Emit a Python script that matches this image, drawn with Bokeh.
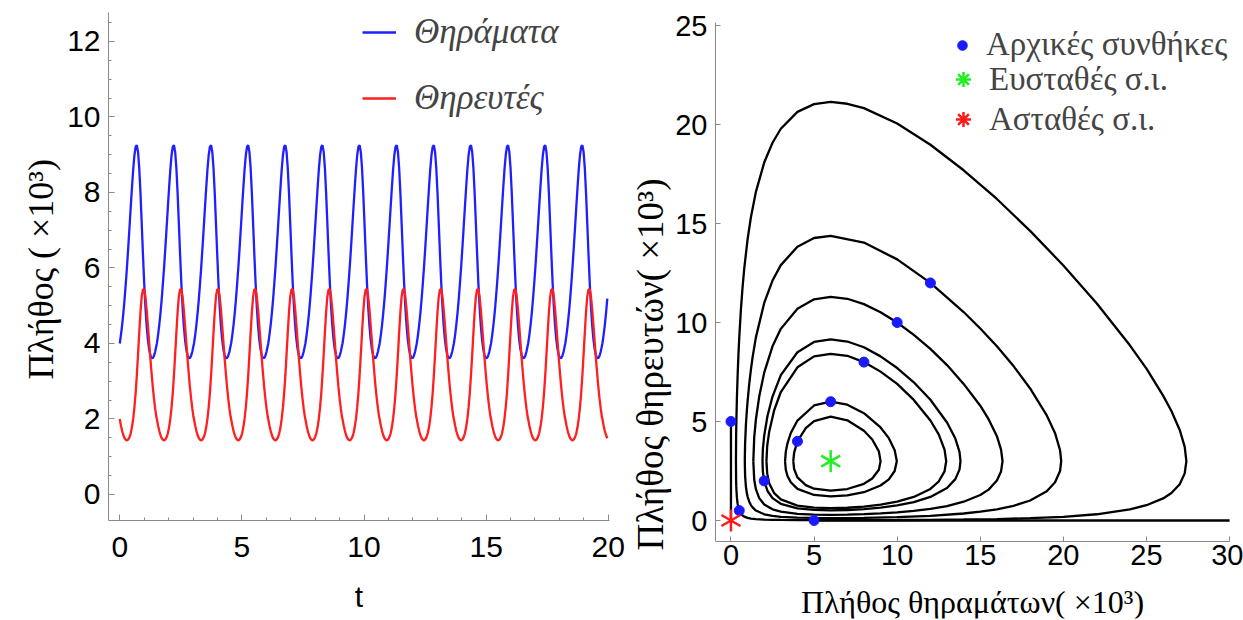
import math
from bokeh.plotting import figure
from bokeh.layouts import row
from bokeh.models import FixedTicker, Legend, LegendItem, Title
from bokeh.embed import file_html
from bokeh.resources import INLINE

SANS = "Liberation Sans"
SERIF = "Liberation Serif"

# ---------------- left panel: one oscillation cycle ----------------
cycle_t = [0.00, 0.05, 0.10, 0.15, 0.20, 0.25, 0.30, 0.35, 0.40, 0.45, 0.50,
           0.55, 0.60, 0.65, 0.70, 0.75, 0.80, 0.85, 0.90, 0.95, 1.00,
           1.05, 1.10, 1.15, 1.20, 1.25, 1.30, 1.35, 1.40, 1.45, 1.50]
prey_cycle = [4.00, 4.23, 4.50, 4.82, 5.19, 5.61, 6.06, 6.56, 7.08, 7.61, 8.12,
              8.60, 8.98, 9.21, 9.25, 9.07, 8.63, 7.97, 7.18, 6.37, 5.62,
              4.99, 4.49, 4.12, 3.86, 3.70, 3.62, 3.61, 3.67, 3.78, 3.94]
pred_cycle = [2.00, 1.82, 1.68, 1.57, 1.49, 1.45, 1.43, 1.46, 1.52, 1.62, 1.78,
              2.00, 2.30, 2.68, 3.16, 3.72, 4.30, 4.84, 5.24, 5.43, 5.43,
              5.25, 4.92, 4.51, 4.08, 3.64, 3.24, 2.87, 2.55, 2.28, 2.05]
period = 1.52
t_end = 20.0

# ---------------- right panel: phase-plane orbits ----------------
orbit_g_x = [0.2995, 0.31, 0.32, 0.33, 0.36, 0.40, 0.45, 0.50, 0.60, 0.70, 0.80, 1.0, 1.2, 1.5, 2.0, 2.5, 3.0, 4.0, 5.0, 6.0, 7.0, 8.0,
             10.0, 12.0, 14.0, 16.0, 18.0, 20.0, 22.0, 24.0, 25.0, 26.0, 26.5, 27.0, 27.3, 27.4,
             27.3, 27.0, 26.5, 26.0, 25.0, 24.0, 22.0, 20.0, 18.0, 16.0, 14.0, 12.0, 10.0, 8.0, 7.0, 6.0, 5.0, 4.0,
             3.0, 2.5, 2.0, 1.5, 1.2, 1.0, 0.8, 0.7, 0.6, 0.5, 0.45, 0.40, 0.36, 0.33, 0.32, 0.31, 0.2995]
orbit_g_y = [3.0, 4.22, 4.77, 5.2, 6.24, 7.3, 8.37, 9.25, 10.68, 11.8, 12.73, 14.2, 15.32, 16.6, 18.08, 19.08, 19.79, 20.64, 21.03, 21.15, 21.05, 20.83,
             20.05, 18.98, 17.69, 16.24, 14.63, 12.88, 10.97, 8.85, 7.67, 6.31, 5.53, 4.575, 3.72, 3.0,
             2.38, 1.835, 1.39, 1.115, 0.771, 0.558, 0.315, 0.188, 0.116, 0.0745, 0.0494, 0.0344, 0.0253, 0.0203, 0.019, 0.0185, 0.0191, 0.0214,
             0.0273, 0.0334, 0.0443, 0.067, 0.096, 0.131, 0.195, 0.251, 0.34, 0.5, 0.635, 0.85, 1.14, 1.53, 1.735, 2.04, 3.0]

orbit_a_x = [0.832, 0.85, 0.90, 0.95, 1.0, 1.1, 1.2, 1.3, 1.5, 2.0, 2.5, 3.0, 4.0, 5.0, 6.0, 8.0, 10.0, 12.0, 14.0, 15.0, 16.0, 17.0,
             18.0, 19.0, 19.5, 19.8, 19.87, 19.8, 19.5, 19.0, 18.0, 17.0, 16.0, 15.0, 14.0, 12.0, 10.0, 8.0, 6.0, 5.0, 4.0,
             3.0, 2.5, 2.0, 1.5, 1.3, 1.2, 1.1, 1.0, 0.95, 0.90, 0.85, 0.832]
orbit_a_y = [3.0, 3.87, 4.83, 5.48, 6.02, 6.9, 7.62, 8.24, 9.25, 10.99, 12.12, 12.9, 13.83, 14.27, 14.38, 14.04, 13.19, 12.0, 10.53, 9.7, 8.8, 7.8,
             6.67, 5.31, 4.41, 3.55, 3.0, 2.5, 1.93, 1.48, 1.01, 0.74, 0.565, 0.447, 0.354, 0.238, 0.172, 0.136, 0.124, 0.128, 0.144,
             0.186, 0.23, 0.313, 0.502, 0.66, 0.778, 0.95, 1.21, 1.41, 1.705, 2.27, 3.0]

orbit_b_x = [1.345, 1.4, 1.5, 1.7, 2.0, 2.5, 3.0, 4.0, 5.0, 6.0, 7.0, 8.0, 9.0, 10.0, 11.0, 12.0, 13.0, 14.0, 15.0, 15.5, 16.0, 16.25,
             16.34, 16.25, 16.0, 15.5, 15.0, 14.0, 13.0, 12.0, 11.0, 10.0, 9.0, 8.0, 7.0, 6.0, 5.0, 4.0, 3.0, 2.5, 2.0, 1.7, 1.5, 1.4, 1.345]
orbit_b_y = [3.0, 4.2, 5.1, 6.26, 7.47, 8.8, 9.68, 10.7, 11.17, 11.3, 11.2, 10.93, 10.52, 10.0, 9.38, 8.67, 7.85, 6.9, 5.8, 5.12, 4.26, 3.58,
             3.0, 2.48, 2.02, 1.56, 1.29, 0.95, 0.73, 0.587, 0.485, 0.41, 0.355, 0.318, 0.296, 0.288, 0.298, 0.338, 0.447, 0.565, 0.81, 1.13, 1.58, 2.06, 3.0]

orbit_f_x = [1.897, 1.92, 2.0, 2.2, 2.5, 3.0, 4.0, 5.0, 6.0, 7.0, 8.0, 9.0, 10.0, 11.0, 12.0, 13.0, 13.5, 13.75, 13.81,
             13.75, 13.5, 13.0, 12.0, 11.0, 10.0, 9.0, 8.0, 7.0, 6.0, 5.0, 4.0, 3.0, 2.5, 2.2, 2.0, 1.92, 1.897]
orbit_f_y = [3.0, 3.6, 4.29, 5.29, 6.26, 7.34, 8.5, 9.02, 9.15, 9.04, 8.75, 8.29, 7.7, 6.98, 6.1, 4.95, 4.14, 3.47, 3.0,
             2.57, 2.09, 1.645, 1.19, 0.93, 0.76, 0.65, 0.574, 0.53, 0.514, 0.534, 0.612, 0.845, 1.13, 1.49, 2.0, 2.47, 3.0]

orbit_c_x = [2.135, 2.18, 2.3, 2.6, 3.0, 4.0, 5.0, 6.0, 7.0, 8.0, 9.0, 10.0, 11.0, 12.0, 12.5, 12.85, 12.95,
             12.85, 12.5, 12.0, 11.0, 10.0, 9.0, 8.0, 7.0, 6.0, 5.0, 4.0, 3.0, 2.6, 2.3, 2.18, 2.135]
orbit_c_y = [3.0, 3.76, 4.485, 5.57, 6.49, 7.74, 8.29, 8.42, 8.32, 8.0, 7.52, 6.9, 6.09, 5.05, 4.35, 3.58, 3.0,
             2.48, 1.97, 1.595, 1.19, 0.95, 0.8, 0.703, 0.645, 0.625, 0.65, 0.753, 1.065, 1.38, 1.885, 2.38, 3.0]

orbit_d_x = [3.255, 3.3, 3.4, 3.6, 4.0, 5.0, 6.0, 7.0, 8.0, 9.0, 9.5, 9.85, 9.98,
             9.85, 9.5, 9.0, 8.0, 7.0, 6.0, 5.0, 4.0, 3.6, 3.4, 3.3, 3.255]
orbit_d_y = [3.0, 3.48, 3.9, 4.42, 5.05, 5.81, 6.0, 5.85, 5.42, 4.7, 4.16, 3.55, 3.0,
             2.5, 2.08, 1.77, 1.43, 1.272, 1.22, 1.29, 1.6, 1.93, 2.25, 2.56, 3.0]

orbit_e_x = [3.75, 3.8, 4.0, 4.5, 5.0, 6.0, 7.0, 8.0, 8.5, 8.9, 9.0,
             8.9, 8.5, 8.0, 7.0, 6.0, 5.0, 4.5, 4.0, 3.8, 3.75]
orbit_e_y = [3.0, 3.43, 4.0, 4.67, 5.02, 5.25, 5.06, 4.53, 4.09, 3.49, 3.0,
             2.56, 2.12, 1.855, 1.59, 1.51, 1.605, 1.785, 2.18, 2.6, 3.0]

y_axis_traj_x = [0.0, 0.0]
y_axis_traj_y = [5.0, 0.0]
x_axis_traj_x = [5.0, 30.0]
x_axis_traj_y = [0.0, 0.0]

init_x = [0.0, 0.5, 2.0, 4.0, 6.0, 8.0, 10.0, 12.0, 5.0]
init_y = [5.0, 0.5, 2.0, 4.0, 6.0, 8.0, 10.0, 12.0, 0.0]
stable_x, stable_y = [6.0], [3.0]
unstable_x, unstable_y = [0.0], [0.0]

left_xticks = [0, 5, 10, 15, 20]
left_xminor = [i for i in range(0, 21)]
left_yticks = [0, 2, 4, 6, 8, 10, 12]
left_yminor = [i * 0.5 for i in range(0, 26)]
right_xticks = [0, 5, 10, 15, 20, 25, 30]
right_yticks = [0, 5, 10, 15, 20, 25]

# build the full time series from the repeated cycle
t_vals, prey_vals, pred_vals = [], [], []
k = 0
while k * period <= t_end:
    for c, a, b in zip(cycle_t, prey_cycle, pred_cycle):
        tt = k * period + c
        if tt <= t_end + 1e-9:
            t_vals.append(tt)
            prey_vals.append(a)
            pred_vals.append(b)
    k += 1

AX_GRAY = "#8a8a8a"


def style(p, xt, xm, yt, ym, fs, tick_in):
    p.grid.visible = False
    p.outline_line_color = None
    p.xaxis[0].ticker = FixedTicker(ticks=xt, minor_ticks=xm)
    p.yaxis[0].ticker = FixedTicker(ticks=yt, minor_ticks=ym)
    for ax in (p.xaxis[0], p.yaxis[0]):
        ax.axis_line_color = AX_GRAY
        ax.major_tick_line_color = AX_GRAY
        ax.minor_tick_line_color = AX_GRAY
        ax.major_tick_in = tick_in
        ax.major_tick_out = 0
        ax.minor_tick_in = 3
        ax.minor_tick_out = 0
        ax.major_label_text_font = SANS
        ax.major_label_text_font_size = fs
        ax.major_label_text_color = "black"
        ax.axis_label_text_color = "black"
        ax.axis_label_text_font_style = "normal"


# ---------------- left figure ----------------
p1 = figure(width=625, height=620, x_range=(-0.46, 20.705), y_range=(-3.285, 12.768),
            output_backend="svg", toolbar_location=None,
            min_border_left=108, min_border_right=0, min_border_top=12, min_border_bottom=2)
style(p1, left_xticks, left_xminor, left_yticks, left_yminor, "30px", 6)
p1.xaxis[0].fixed_location = -0.70
p1.xaxis[0].bounds = (-0.46, 20.05)
p1.yaxis[0].bounds = (-0.70, 12.768)
p1.xaxis[0].axis_label = "t"
p1.xaxis[0].axis_label_text_font = SANS
p1.xaxis[0].axis_label_text_font_size = "30px"
p1.xaxis[0].major_label_standoff = 16
p1.xaxis[0].axis_label_standoff = 20
p1.yaxis[0].major_label_standoff = 8
p1.add_layout(Title(text="Πλήθος ( ×10³)", align="left", offset=239, standoff=8,
                    text_font=SERIF, text_font_size="36px", text_font_style="normal",
                    text_color="black"), "left")

r_prey = p1.line(t_vals, prey_vals, line_color="#1f1fff", line_width=2.3)
r_pred = p1.line(t_vals, pred_vals, line_color="#ff1f1f", line_width=2.3)

leg1 = Legend(items=[LegendItem(label="Θηράματα", renderers=[r_prey]),
                     LegendItem(label="Θηρευτές", renderers=[r_pred])],
              location=(254, 500), glyph_width=34, glyph_height=32, spacing=26,
              label_standoff=18, label_text_font=SERIF, label_text_font_style="italic",
              label_text_font_size="35px", padding=0, margin=0,
              border_line_alpha=0, background_fill_alpha=0)
p1.add_layout(leg1, "center")

# ---------------- right figure ----------------
p2 = figure(width=618, height=620, x_range=(-0.93, 30.837), y_range=(-4.95, 25.66),
            output_backend="svg", toolbar_location=None,
            min_border_left=87, min_border_right=0, min_border_top=12, min_border_bottom=2)
style(p2, right_xticks, [], right_yticks, [], "29px", 5)
p2.xaxis[0].fixed_location = -1.06
p2.xaxis[0].bounds = (-0.93, 30.0)
p2.yaxis[0].bounds = (-1.06, 25.15)
p2.xaxis[0].axis_label = "Πλήθος θηραμάτων( ×10³)"
p2.xaxis[0].axis_label_text_font = SERIF
p2.xaxis[0].axis_label_text_font_size = "32px"
p2.xaxis[0].major_label_standoff = 4
p2.xaxis[0].axis_label_standoff = 15
p2.yaxis[0].major_label_standoff = 8
p2.add_layout(Title(text="Πλήθος θηρευτών( ×10³)", align="left", offset=68, standoff=4,
                    text_font=SERIF, text_font_size="37px", text_font_style="normal",
                    text_color="black"), "left")

orbits = [(orbit_g_x, orbit_g_y), (orbit_a_x, orbit_a_y), (orbit_b_x, orbit_b_y),
          (orbit_f_x, orbit_f_y), (orbit_c_x, orbit_c_y), (orbit_d_x, orbit_d_y),
          (orbit_e_x, orbit_e_y), (y_axis_traj_x, y_axis_traj_y), (x_axis_traj_x, x_axis_traj_y)]
for ox, oy in orbits:
    p2.line(ox, oy, line_color="black", line_width=2.3)

r_dots = p2.scatter(init_x, init_y, marker="circle", size=10, fill_color="#1a1aff", line_color="#1a1aff")

GREEN = "#22ee22"
RED = "#ff1a1a"


def star(xs, ys, color, size):
    for ang in (math.pi / 2, math.pi / 6, -math.pi / 6):
        p2.scatter(xs, ys, marker="dash", size=size, angle=ang, line_color=color, line_width=2.5)


star(stable_x, stable_y, GREEN, 22)
star(unstable_x, unstable_y, RED, 22)

# legend swatches: same points, zero size in the plot (legend draws its own size)
sw_green = p2.scatter(stable_x, stable_y, marker="asterisk", size=0, line_color=GREEN, line_width=2.5)
sw_red = p2.scatter(unstable_x, unstable_y, marker="asterisk", size=0, line_color=RED, line_width=2.5)

legA = Legend(items=[LegendItem(label="Αρχικές συνθήκες", renderers=[r_dots])],
              location=(235, 555), glyph_width=24, glyph_height=34, spacing=0,
              label_standoff=12, label_text_font=SERIF, label_text_font_size="33px",
              padding=0, margin=0, border_line_alpha=0, background_fill_alpha=0)
legB = Legend(items=[LegendItem(label="Ευσταθές σ.ι.", renderers=[sw_green]),
                     LegendItem(label="Ασταθές σ.ι.", renderers=[sw_red])],
              location=(229, 480), glyph_width=38, glyph_height=38, spacing=2,
              label_standoff=7, label_text_font=SERIF, label_text_font_size="33px",
              padding=0, margin=0, border_line_alpha=0, background_fill_alpha=0)
p2.add_layout(legA, "center")
p2.add_layout(legB, "center")

layout = row(p1, p2)
with open("out.html", "w") as f:
    f.write(file_html(layout, INLINE))
